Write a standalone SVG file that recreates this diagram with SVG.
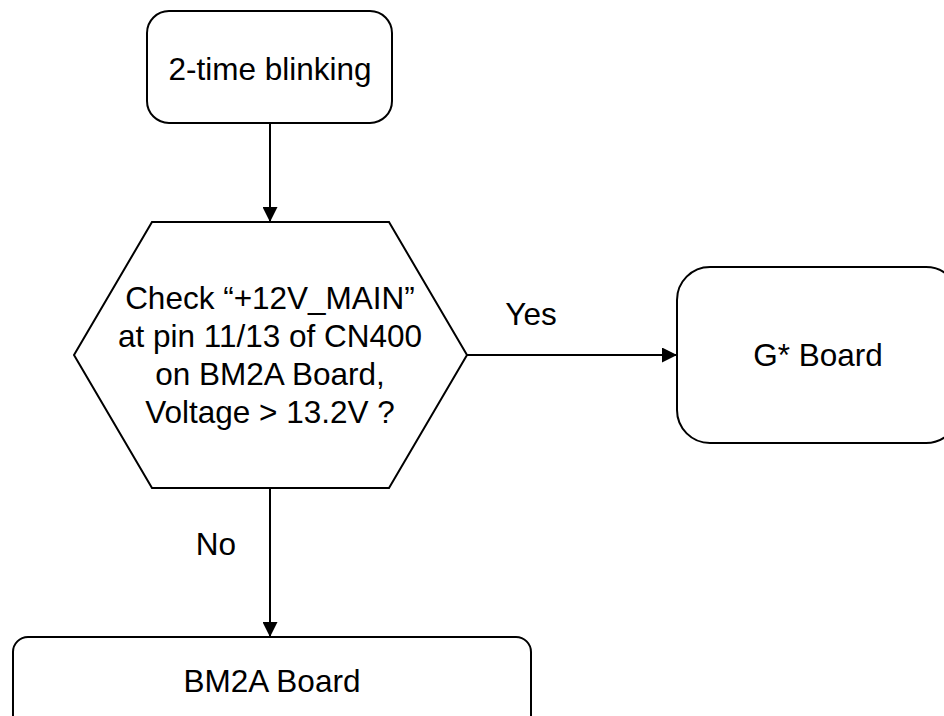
<svg xmlns="http://www.w3.org/2000/svg" width="944" height="716" viewBox="0 0 944 716">
  <style>
    .shape { fill: #ffffff; stroke: #000000; stroke-width: 2; }
    .conn { fill: none; stroke: #000000; stroke-width: 2; }
    text { font-family: "Liberation Sans", Arial, sans-serif; font-size: 31.5px; fill: #000000; text-anchor: middle; }
  </style>
  <defs>
    <marker id="arrow" markerWidth="15" markerHeight="15" refX="15" refY="7.5" orient="auto" markerUnits="userSpaceOnUse">
      <path d="M0,0 L15,7.5 L0,15 Z" fill="#000000"/>
    </marker>
  </defs>
  <rect width="944" height="716" fill="#ffffff"/>
  <g id="connectors">
    <line class="conn" x1="270" y1="123" x2="270" y2="222" marker-end="url(#arrow)"/>
    <line class="conn" x1="467" y1="355" x2="677" y2="355" marker-end="url(#arrow)"/>
    <line class="conn" x1="270" y1="488" x2="270" y2="637" marker-end="url(#arrow)"/>
    <text x="531" y="325">Yes</text>
    <text x="216" y="555">No</text>
  </g>
  <g id="start">
    <rect class="shape" x="147" y="11" width="245" height="112" rx="22" ry="22"/>
    <text x="270" y="80">2-time blinking</text>
  </g>
  <g id="decision">
    <polygon class="shape" points="152,222 389,222 467,355 389,488 152,488 74,355"/>
    <text x="270" y="309">Check “+12V_MAIN”</text>
    <text x="270" y="347">at pin 11/13 of CN400</text>
    <text x="270" y="385">on BM2A Board,</text>
    <text x="270" y="423">Voltage &gt; 13.2V ?</text>
  </g>
  <g id="gboard">
    <rect class="shape" x="677" y="267" width="282" height="176" rx="33" ry="33"/>
    <text x="818" y="366">G* Board</text>
  </g>
  <g id="bm2a">
    <rect class="shape" x="13" y="637" width="518" height="95" rx="15" ry="15"/>
    <text x="272" y="692">BM2A Board</text>
  </g>
</svg>
